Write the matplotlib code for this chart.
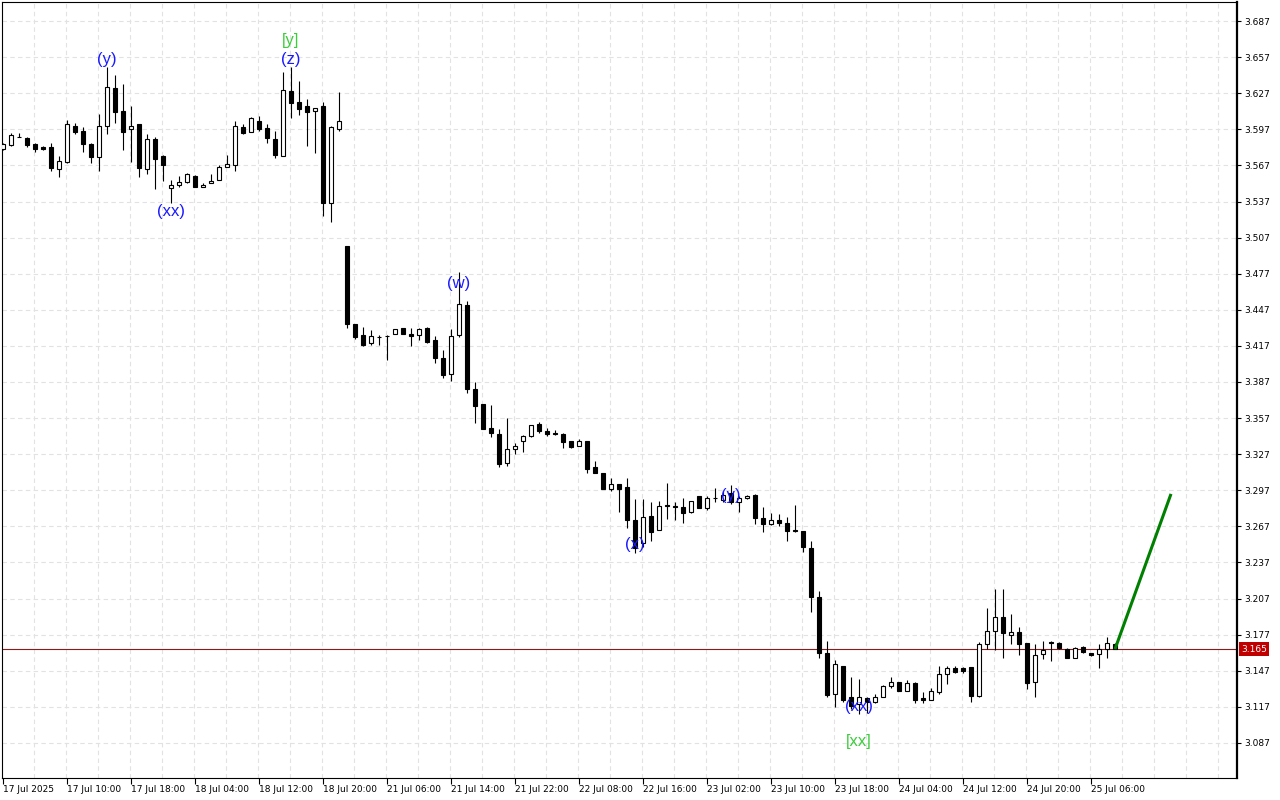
import matplotlib
matplotlib.use('Agg')
import matplotlib.pyplot as plt
import matplotlib.transforms as mtransforms
import numpy as np

# hourly candles (bar index = position)
opens = [
    3.581, 3.584, 3.591, 3.590, 3.585, 3.582, 3.582, 3.564, 3.570, 3.600,
    3.596, 3.585, 3.574, 3.600, 3.631, 3.612, 3.597, 3.601, 3.564, 3.589,
    3.575, 3.548, 3.551, 3.553, 3.558, 3.549, 3.552, 3.555, 3.566, 3.567,
    3.599, 3.595, 3.604, 3.598, 3.589, 3.575, 3.629, 3.620, 3.616, 3.612,
    3.616, 3.536, 3.597, 3.500, 3.435, 3.426, 3.419, 3.424, 3.425, 3.427,
    3.432, 3.427, 3.426, 3.432, 3.422, 3.407, 3.394, 3.426, 3.451, 3.381,
    3.369, 3.349, 3.344, 3.320, 3.331, 3.338, 3.342, 3.352, 3.346, 3.345,
    3.344, 3.338, 3.334, 3.338, 3.316, 3.311, 3.298, 3.302, 3.300, 3.272,
    3.253, 3.276, 3.264, 3.285, 3.284, 3.283, 3.279, 3.292, 3.282, 3.291,
    3.289, 3.295, 3.287, 3.291, 3.293, 3.274, 3.269, 3.272, 3.270, 3.264,
    3.263, 3.249, 3.208, 3.162, 3.128, 3.151, 3.125, 3.119, 3.124, 3.121,
    3.125, 3.134, 3.138, 3.130, 3.137, 3.124, 3.123, 3.129, 3.144, 3.149,
    3.149, 3.150, 3.126, 3.169, 3.180, 3.192, 3.177, 3.179, 3.170, 3.138,
    3.161, 3.171, 3.170, 3.165, 3.158, 3.167, 3.162, 3.161, 3.165, 3.169,
]
highs = [
    3.586, 3.594, 3.594, 3.591, 3.586, 3.583, 3.586, 3.575, 3.605, 3.602,
    3.599, 3.586, 3.610, 3.649, 3.642, 3.635, 3.616, 3.601, 3.593, 3.591,
    3.576, 3.555, 3.558, 3.561, 3.559, 3.552, 3.560, 3.567, 3.576, 3.604,
    3.601, 3.607, 3.608, 3.601, 3.596, 3.645, 3.649, 3.637, 3.622, 3.615,
    3.620, 3.600, 3.628, 3.500, 3.435, 3.433, 3.430, 3.426, 3.426, 3.431,
    3.432, 3.432, 3.432, 3.433, 3.425, 3.414, 3.431, 3.478, 3.454, 3.387,
    3.369, 3.368, 3.348, 3.357, 3.336, 3.343, 3.351, 3.354, 3.349, 3.347,
    3.345, 3.338, 3.340, 3.338, 3.321, 3.311, 3.307, 3.302, 3.307, 3.290,
    3.290, 3.287, 3.288, 3.303, 3.287, 3.291, 3.288, 3.292, 3.292, 3.299,
    3.296, 3.301, 3.292, 3.293, 3.294, 3.283, 3.278, 3.277, 3.275, 3.285,
    3.263, 3.255, 3.213, 3.172, 3.156, 3.151, 3.142, 3.140, 3.125, 3.128,
    3.135, 3.142, 3.138, 3.139, 3.138, 3.129, 3.133, 3.151, 3.151, 3.151,
    3.150, 3.150, 3.171, 3.199, 3.215, 3.215, 3.194, 3.183, 3.170, 3.169,
    3.172, 3.172, 3.171, 3.166, 3.167, 3.168, 3.162, 3.169, 3.175, 3.170,
]
lows = [
    3.580, 3.583, 3.591, 3.582, 3.578, 3.580, 3.562, 3.557, 3.569, 3.593,
    3.578, 3.569, 3.562, 3.593, 3.602, 3.580, 3.570, 3.557, 3.560, 3.547,
    3.554, 3.536, 3.549, 3.552, 3.549, 3.549, 3.552, 3.555, 3.566, 3.562,
    3.593, 3.595, 3.596, 3.586, 3.573, 3.575, 3.606, 3.609, 3.583, 3.577,
    3.525, 3.520, 3.596, 3.432, 3.423, 3.417, 3.418, 3.418, 3.405, 3.427,
    3.427, 3.417, 3.422, 3.419, 3.403, 3.390, 3.388, 3.424, 3.378, 3.353,
    3.348, 3.341, 3.316, 3.317, 3.327, 3.329, 3.341, 3.345, 3.342, 3.343,
    3.332, 3.332, 3.334, 3.311, 3.311, 3.298, 3.296, 3.279, 3.266, 3.245,
    3.250, 3.255, 3.264, 3.273, 3.272, 3.270, 3.278, 3.282, 3.281, 3.287,
    3.287, 3.286, 3.279, 3.290, 3.269, 3.262, 3.268, 3.267, 3.255, 3.262,
    3.246, 3.196, 3.158, 3.125, 3.117, 3.121, 3.115, 3.111, 3.112, 3.120,
    3.125, 3.133, 3.130, 3.130, 3.120, 3.120, 3.123, 3.128, 3.136, 3.145,
    3.145, 3.121, 3.125, 3.165, 3.164, 3.158, 3.169, 3.160, 3.132, 3.125,
    3.157, 3.155, 3.165, 3.158, 3.158, 3.162, 3.159, 3.149, 3.158, 3.165,
]
closes = [
    3.585, 3.592, 3.591, 3.584, 3.581, 3.581, 3.565, 3.571, 3.601, 3.595,
    3.585, 3.574, 3.600, 3.632, 3.611, 3.595, 3.600, 3.565, 3.589, 3.572,
    3.567, 3.551, 3.553, 3.560, 3.549, 3.551, 3.554, 3.566, 3.568, 3.600,
    3.594, 3.606, 3.597, 3.590, 3.576, 3.630, 3.619, 3.614, 3.611, 3.615,
    3.536, 3.599, 3.604, 3.435, 3.424, 3.418, 3.425, 3.424, 3.425, 3.431,
    3.427, 3.425, 3.431, 3.420, 3.407, 3.393, 3.425, 3.452, 3.381, 3.367,
    3.348, 3.345, 3.319, 3.331, 3.334, 3.342, 3.351, 3.346, 3.344, 3.344,
    3.337, 3.333, 3.338, 3.315, 3.311, 3.298, 3.302, 3.298, 3.272, 3.249,
    3.275, 3.262, 3.284, 3.284, 3.283, 3.278, 3.288, 3.282, 3.291, 3.291,
    3.293, 3.287, 3.291, 3.292, 3.274, 3.269, 3.272, 3.270, 3.263, 3.263,
    3.250, 3.208, 3.162, 3.127, 3.153, 3.123, 3.118, 3.125, 3.121, 3.125,
    3.134, 3.138, 3.130, 3.137, 3.123, 3.123, 3.130, 3.144, 3.149, 3.146,
    3.147, 3.126, 3.169, 3.180, 3.192, 3.178, 3.179, 3.169, 3.137, 3.160,
    3.164, 3.170, 3.166, 3.158, 3.166, 3.163, 3.160, 3.165, 3.170, 3.165,
]

time_labels = ['17 Jul 2025', '17 Jul 10:00', '17 Jul 18:00', '18 Jul 04:00',
               '18 Jul 12:00', '18 Jul 20:00', '21 Jul 06:00', '21 Jul 14:00',
               '21 Jul 22:00', '22 Jul 08:00', '22 Jul 16:00', '23 Jul 02:00',
               '23 Jul 10:00', '23 Jul 18:00', '24 Jul 04:00', '24 Jul 12:00',
               '24 Jul 20:00', '25 Jul 06:00']

# wave marks: bar, price, text
wave_bars = [13, 21, 36, 36, 57, 79, 91, 107, 107]
wave_prices = [3.655, 3.529, 3.671, 3.655, 3.469, 3.252, 3.293, 3.117, 3.088]
wave_texts = ['(y)', '(xx)', '[y]', '(z)', '(w)', '(x)', '(y)', '(xx)', '[xx]']
wave_colors = ['#1a1aff', '#1a1aff', '#3ccc3c', '#1a1aff', '#1a1aff',
               '#1a1aff', '#1a1aff', '#1a1aff', '#3ccc3c']

# forecast arrow
proj_bars = [139, 146]
proj_prices = [3.165, 3.294]

current_price = 3.165

opens = np.array(opens)
closes = np.array(closes)
highs = np.array(highs)
lows = np.array(lows)
x = np.arange(len(opens))

fig = plt.figure(figsize=(12.8, 8), dpi=100)
ax = fig.add_axes([2 / 1280, 22 / 800, 1235 / 1280, 776 / 800])

# wicks
ax.vlines(x, lows, highs, color='black', linewidth=0.8, zorder=2)

# bodies
bull = closes > opens
body_bottom = np.minimum(opens, closes)
body_h = np.abs(closes - opens)
ax.bar(x[bull], body_h[bull], bottom=body_bottom[bull], width=0.6,
       facecolor='white', edgecolor='black', linewidth=0.8, zorder=3)
ax.bar(x[~bull], body_h[~bull], bottom=body_bottom[~bull], width=0.6,
       facecolor='black', edgecolor='black', linewidth=0.8, zorder=3)

# current price line
ax.axhline(current_price, color='#8b1a1a', linewidth=0.8, zorder=1)

# projection
ax.plot(proj_bars, proj_prices, color='#008000', linewidth=2.2, zorder=4,
        solid_capstyle='butt')

for b, p, t, c in zip(wave_bars, wave_prices, wave_texts, wave_colors):
    ax.text(b, p, t, color=c, fontsize=12, ha='center', va='center',
            zorder=5, family='Liberation Sans')

# axes
ax.set_xlim(-0.125, 154.25)
ax.set_ylim(3.0579, 3.7028)

yt = np.round(np.arange(3.087, 3.6875, 0.03), 3)
ax.set_yticks(yt)
ax.set_yticklabels([f'{v:.3f}' for v in yt])
ax.yaxis.tick_right()
ax.tick_params(axis='y', direction='out', length=3, width=0.8, labelsize=6.5, pad=2)

ax.set_xticks(np.arange(0, len(time_labels) * 8, 8))
ax.set_xticklabels(time_labels)
ax.tick_params(axis='x', direction='out', length=4, width=0.8, labelsize=6.5, pad=1)
plt.setp(ax.get_xticklabels(), ha='left')

ax.set_xticks(np.arange(4, 155, 4) - 0.125, minor=True)
ax.tick_params(axis='x', which='minor', length=0)
ax.grid(which='minor', axis='x', color='#e2e2e2', linestyle=(0, (4, 3)), linewidth=0.8)
ax.grid(which='major', axis='y', color='#e2e2e2', linestyle=(0, (4, 3)), linewidth=0.8)
ax.set_axisbelow(True)

for s in ax.spines.values():
    s.set_linewidth(0.8)
ax.spines['right'].set_linewidth(1.6)

# price tag on the right axis
trans = mtransforms.blended_transform_factory(ax.transAxes, ax.transData)
ax.annotate(f'{current_price:.3f}', xy=(1.0, current_price), xycoords=trans,
            xytext=(3, 0), textcoords='offset points', ha='left', va='center',
            color='white', fontsize=6.5,
            bbox=dict(boxstyle='square,pad=0.25', facecolor='#c00000', edgecolor='none'))

plt.savefig('out.png', dpi=100)
plt.close()
